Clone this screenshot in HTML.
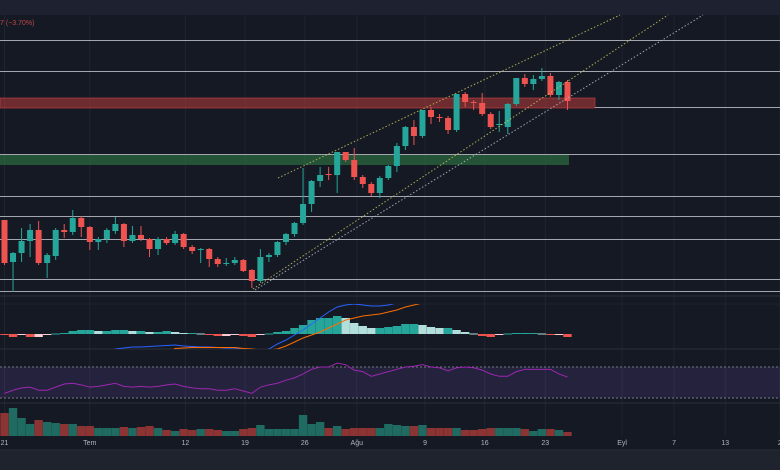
<!DOCTYPE html>
<html><head><meta charset="utf-8"><style>
html,body{margin:0;padding:0;background:#151924;width:780px;height:470px;overflow:hidden}
svg{display:block}
text{font-family:"Liberation Sans",sans-serif}
</style></head><body>
<svg id="chart" width="780" height="470" xmlns="http://www.w3.org/2000/svg">
<rect x="0" y="0" width="780" height="470" fill="#151924"/>
<rect x="0" y="0" width="780" height="15" fill="#1d2130"/>
<text x="0" y="25" font-size="7" fill="#c04848">7 (−3.70%)</text>
<rect x="0" y="450" width="780" height="20" fill="#1f232e"/>
<g id="grid"></g>
<g id="levels"></g>
<g id="candles"></g>
<g id="channels"></g>
<g id="macd"></g>
<g id="rsi"></g>
<g id="volume"></g>
<g id="xaxis"></g>
</svg>
<script>
const NS="http://www.w3.org/2000/svg";
const opens=[80,38,47,59,70,37,44,70,68,82,73,58,61,69,76,59,65,61,51,61,57,66,53,50,51,41,36,37,40,30,19,43,45,58,66,77,96,119,126,125,148,140,123,116,107,122,134,154,173,164,190,183,182,170,206,198,197,186,175,173,196,222,216,221,224,205,218];
const closes=[37,47,59,70,37,45,70,68,82,73,58,61,70,76,59,65,61,51,61,57,66,53,49,51,41,36,37,40,29,19,43,45,58,66,77,96,119,125,125,148,140,123,116,107,122,134,154,173,164,190,183,182,170,206,198,197,186,173,176,196,222,216,221,224,205,218,199];
const highs=[80,48,72,76,79,47,72,76,90,84,74,63,72,83,77,74,74,62,63,63,69,67,55,52,52,43,42,43,41,31,51,47,59,67,78,132,120,133,133,148,148,152,125,118,124,135,157,174,180,190,193,186,184,206,208,200,207,188,189,197,222,226,225,232,227,219,220];
const lows=[35,8,38,43,35,22,40,62,65,63,50,50,57,66,53,57,59,43,45,55,55,51,46,37,33,33,34,35,28,12,17,38,43,55,63,75,88,113,120,107,138,120,112,104,102,120,128,150,155,162,176,178,166,168,193,190,184,171,168,166,194,213,210,219,203,200,190];
const macdHist=[-1,-3,-1,-3,-3,-1,0.5,1,3,4,4,3,3,4,4,3,3,2,2,3,2,1,1,0.5,-1,-2,-2,-1,-2,-3,-1,0.5,2,3,6,9,14,16,16,18,16,11,8,6,6,7,8,10,10,9,7,6,6,4,2,0.5,-2,-3,-1,0.5,1,1,1,0.5,-1,-1,-3];
const macdLine=[-20,-20,-20,-20,-20,-20,-20,-20,-20,-20,-20,-20,-20,-15,-14,-13,-13,-12.5,-12,-11.5,-11,-12,-12.5,-13,-13,-13.5,-14,-14,-16,-18,-18,-15,-10,-6,-1,4,10,16,22,27,29,30,29,28,28,29,31,35,35,35,35,35,35,35,35,35,35,35,35,35,35,35,35,35,35,35,35];
const signalLine=[-20,-20,-20,-20,-20,-20,-20,-20,-20,-20,-20,-20,-20,-20,-20,-20,-20,-20,-20,-20,-14.5,-14,-13.5,-13.5,-13.5,-13.5,-13.5,-13.5,-14.5,-15,-16,-16,-15,-12,-8,-4,-1,2,6,10,14,16,18,19,20,22,24,27,29,31,33,36,36,36,36,36,36,36,36,36,36,36,36,36,36,36,36];
const rsiValues=[36,40,43,44,40,40,44,48,49,47,44,45,47,49,45,44,45,44,45,47,48,45,43,42,42,40,40,42,39,36,44,47,49,53,56,61,67,70,70,75,73,66,64,58,61,64,67,70,71,73,70,69,65,69,70,69,66,61,58,58,64,67,67,67,67,61,57];
const volumes=[23,28,18,12,16,14,13,12,12,10,10,8,8,8,9,8,9,10,8,6,5,7,6,7,7,6,5,5,7,8,11,7,7,7,7,21,12,14,8,10,7,8,8,8,8,12,11,10,10,11,8,8,8,8,6,6,7,8,8,8,8,7,5,7,7,6,4];
const dateLabels=["21","Tem","12","19","26","Ağu","9","16","23","Eyl","7","13","2"];
const dateIndex=[0,10,21.2,28.2,35.2,41.3,49.3,56.3,63.4,72.4,78.5,84.5,90.9];
const levelPrices=[260,229,193,146,104,84,61,21,9];

const X=i=>4.5+i*8.53;
const Y=p=>300-p;
const MY=v=>334-v;
const RY=v=>398-(v-30)*31/40;
const VY=v=>436-v;
const UP="#26a69a",DN="#ef5350";
function mk(tag,attrs,parent){const e=document.createElementNS(NS,tag);for(const k in attrs)e.setAttribute(k,attrs[k]);document.getElementById(parent).appendChild(e);return e;}

dateIndex.forEach((d,k)=>{const l=mk('line',{x1:X(d),x2:X(d),y1:15,y2:436,stroke:'#1f2431','stroke-width':1},'grid');

});
[[296,'#2a2e39'],[304,'#1e2230'],[349,'#2a2e39'],[403,'#2a2e39'],[450,'#2a2e39']].forEach(p=>{const l=mk('line',{x1:0,x2:780,y1:p[0],y2:p[0],stroke:p[1],'stroke-width':1},'grid');

});

let z=mk('rect',{x:0,y:Y(202),width:595,height:10,fill:'#b83b3b','fill-opacity':0.55,stroke:'#c94545','stroke-opacity':0.6},'levels');


z=mk('rect',{x:0,y:Y(146),width:569,height:11,fill:'#2f7a44','fill-opacity':0.6},'levels');


levelPrices.forEach(p=>{const x1=(p==193)?595:0;const l=mk('line',{x1:x1,x2:780,y1:Y(p)+0.5,y2:Y(p)+0.5,stroke:'#a3a6af','stroke-width':1},'levels');

});

opens.forEach((o,i)=>{const c=closes[i];const col=c>=o?UP:DN;
const w=mk('line',{x1:X(i),x2:X(i),y1:Y(highs[i]),y2:Y(lows[i]),stroke:col,'stroke-width':1},'candles');


const top=Y(Math.max(o,c)),h=Math.max(1,Math.abs(o-c));
const b=mk('rect',{x:X(i)-3,y:top,width:6,height:h,fill:col},'candles');

});

[[278,178,620,15,'#c8c65a'],[253,289,668,15,'#c8c65a'],[255,290,703,15,'#b8bcc6']].forEach(c=>{const l=mk('line',{x1:c[0],y1:c[1],x2:c[2],y2:c[3],stroke:c[4],'stroke-width':1,'stroke-dasharray':'1.5 2','stroke-opacity':0.85},'channels');

});

const defs=document.createElementNS(NS,'defs');defs.innerHTML='<clipPath id="mclip"><rect x="0" y="304" width="780" height="45"/></clipPath>';document.getElementById('chart').appendChild(defs);
document.getElementById('macd').setAttribute('clip-path','url(#mclip)');
macdHist.forEach((v,i)=>{const prev=i>0?macdHist[i-1]:0;let col;
if(v>=0)col=v>=prev?'#26a69a':'#b2dfdb';else col=v<prev?'#ef5350':'#ffcdd2';
const b=mk('rect',{x:X(i)-4.2,y:Math.min(MY(v),334),width:8.4,height:Math.max(1,Math.abs(v)),fill:col},'macd');

});
let pm=mk('polyline',{points:macdLine.map((v,i)=>X(i)+','+MY(v)).join(' '),fill:'none',stroke:'#2962ff','stroke-width':1},'macd');


let ps=mk('polyline',{points:signalLine.map((v,i)=>X(i)+','+MY(v)).join(' '),fill:'none',stroke:'#ff6d00','stroke-width':1},'macd');



let rb=mk('rect',{x:0,y:RY(70),width:780,height:RY(30)-RY(70),fill:'#7e57c2','fill-opacity':0.16},'rsi');


[70,30].forEach(v=>{const l=mk('line',{x1:0,x2:780,y1:RY(v),y2:RY(v),stroke:'#787b86','stroke-width':1,'stroke-dasharray':'2 2'},'rsi');

});
let pr=mk('polyline',{points:rsiValues.map((v,i)=>X(i)+','+RY(v)).join(' '),fill:'none',stroke:'#9c27b0','stroke-width':1},'rsi');



volumes.forEach((v,i)=>{const col=closes[i]>=opens[i]?'#1f6b62':'#8c3434';
const b=mk('rect',{x:X(i)-4.2,y:VY(v),width:8.4,height:v,fill:col},'volume');

});

dateLabels.forEach((t,k)=>{const e=mk('text',{x:X(dateIndex[k]),y:445,'font-size':7,fill:'#b2b5be','text-anchor':'middle'},'xaxis');e.textContent=t;

});
</script>
</body></html>
